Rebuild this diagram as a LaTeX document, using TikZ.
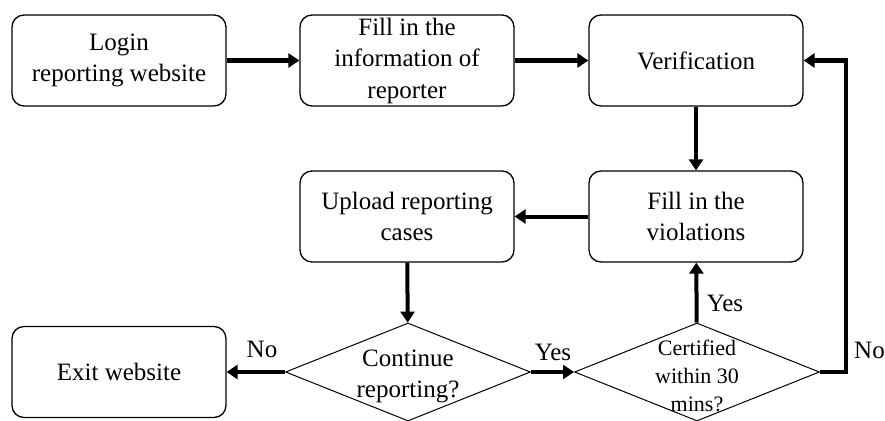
\documentclass[tikz,border=0pt]{standalone}
\usepackage{fontspec}
\setmainfont{Liberation Serif}
\usetikzlibrary{shapes.geometric,arrows.meta}
\begin{document}
\begin{tikzpicture}[x=1pt,y=-1pt,
  box/.style={draw,line width=1.3pt,rounded corners=12pt,minimum width=214pt,minimum height=91pt,align=center,font=\fontsize{25}{31.5}\selectfont,inner sep=0pt},
  dia/.style={draw,line width=1pt,diamond,minimum width=245pt,minimum height=98pt,inner sep=0pt},
  dtext/.style={align=center,inner sep=0pt},
  arr/.style={line width=4pt,-{Triangle[length=11pt,width=14pt]}},
  lab/.style={font=\fontsize{25}{28}\selectfont,inner sep=0pt}]
\useasboundingbox (0,0) rectangle (885,420);
\node[box] (login) at (119,60.5) {Login\\reporting website};
\node[box] (info) at (407,60.5) {Fill in the\\information of\\reporter};
\node[box] (ver) at (696,60.5) {Verification};
\node[box] (viol) at (696,216.5) {Fill in the\\violations};
\node[box] (up) at (407,216.5) {Upload reporting\\cases};
\node[box] (exit) at (119,372) {Exit website};
\node[dia] (cont) at (408,372) {};
\node[dia] (cert) at (697,372) {};
\node[dtext,font=\fontsize{25}{31}\selectfont] (contt) at (408,376) {Continue\\reporting?};
\node[dtext,font=\fontsize{22}{28}\selectfont] (certt) at (697,376) {Certified\\within 30\\mins?};
\coordinate (nc) at (846,372);
\draw[arr] (login) -- (info);
\draw[arr] (info) -- (ver);
\draw[arr] (ver) -- (viol);
\draw[arr] (viol) -- (up);
\draw[arr] (up) -- (cont);
\draw[arr] (cont) -- (exit);
\draw[arr] (cont) -- (cert);
\draw[arr] (cert) -- (viol);
\draw[arr] (cert.east) -- (nc) |- (ver.east);
\node[lab] (no1) at (262,349) {No};
\node[lab] (yes1) at (553,352) {Yes};
\node[lab] (yes2) at (725,303) {Yes};
\node[lab,anchor=west] (no2) at (854,350) {No};
\end{tikzpicture}
\end{document}
